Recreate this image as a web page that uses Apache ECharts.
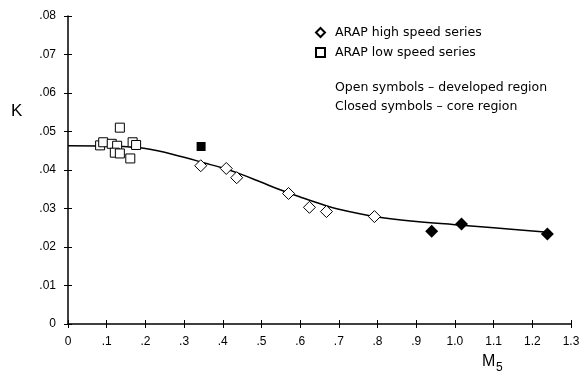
<!DOCTYPE html>
<html>
<head>
<meta charset="utf-8">
<script src="https://cdn.jsdelivr.net/npm/echarts@6/dist/echarts.min.js"></script>
<style>
  html, body { margin: 0; padding: 0; background: #fff; }
  #chart { width: 587px; height: 377px; }
</style>
</head>
<body>
<div id="chart"></div>
<script>
// values
var xTicks = [0, .1, .2, .3, .4, .5, .6, .7, .8, .9, 1.0, 1.1, 1.2, 1.3];
var xTickLabels = ['0', '.1', '.2', '.3', '.4', '.5', '.6', '.7', '.8', '.9', '1.0', '1.1', '1.2', '1.3'];
var yTickLabels = ['0', '.01', '.02', '.03', '.04', '.05', '.06', '.07', '.08'];

var lowOpen = [
    [.083, .0464], [.091, .0472], [.113, .0468], [.127, .0463], [.121, .0445],
    [.134, .0443], [.134, .0510], [.167, .0472], [.176, .0465], [.161, .0430]
];
var lowClosed = [[.344, .0461]];
var highOpen = [
    [.343, .0411], [.409, .0404], [.436, .0380], [.570, .0339],
    [.624, .0303], [.668, .0292], [.792, .0279]
];
var highClosed = [[.940, .0241], [1.017, .0260], [1.239, .0234]];

var curveX = [0, .1, .2, .3, .35, .4, .45, .5, .55, .6, .65, .7, .8, .9, 1.0, 1.1, 1.24];
var curveY = [.0463, .0462, .0456, .0433, .0419, .0405, .0388, .0368, .0348, .0330, .0313, .0298, .0278, .0266, .0258, .0250, .0238];

var chart = echarts.init(document.getElementById('chart'));
var font = '"Liberation Sans", Arial, sans-serif';
var legendFont = '"DejaVu Sans", sans-serif';
var grid = { left: 68, right: 16, top: 16, bottom: 53 };

function fmtX(v) {
    var i = xTicks.findIndex(function (t) { return Math.abs(t - v) < 1e-6; });
    return i >= 0 ? xTickLabels[i] : '';
}
function fmtY(v) {
    return yTickLabels[Math.round(v * 100)] || '';
}

var axisLine = { show: true, lineStyle: { color: '#000', width: 1.5 } };

option = {
    animation: false,
    backgroundColor: '#fff',
    grid: grid,
    legend: {
        data: ['ARAP high speed series', 'ARAP low speed series'],
        orient: 'vertical',
        left: 310,
        top: 21,
        itemWidth: 9,
        itemHeight: 9,
        itemGap: 7,
        textStyle: { fontFamily: legendFont, fontSize: 12.5, color: '#000', padding: [0, 0, 0, 5] }
    },
    xAxis: [{
        type: 'value', min: 0, max: 1.3, interval: 0.1,
        axisLine: axisLine,
        axisTick: { show: true, length: 4, lineStyle: { color: '#000' } },
        axisLabel: { formatter: fmtX, fontFamily: font, fontSize: 12, color: '#000', margin: 12 },
        splitLine: { show: false }
    }, {
        type: 'value', min: 0, max: 1.3, interval: 0.1, position: 'bottom',
        axisLine: { show: false },
        axisTick: { show: true, inside: true, length: 4, lineStyle: { color: '#000' } },
        axisLabel: { show: false },
        splitLine: { show: false }
    }],
    yAxis: [{
        type: 'value', min: 0, max: 0.08, interval: 0.01,
        axisLine: axisLine,
        axisTick: { show: true, length: 4, lineStyle: { color: '#000' } },
        axisLabel: { formatter: fmtY, fontFamily: font, fontSize: 12, color: '#000', margin: 12 },
        splitLine: { show: false }
    }, {
        type: 'value', min: 0, max: 0.08, interval: 0.01, position: 'left',
        axisLine: { show: false },
        axisTick: { show: true, inside: true, length: 4, lineStyle: { color: '#000' } },
        axisLabel: { show: false },
        splitLine: { show: false }
    }],
    series: [{
        name: 'curve',
        type: 'line',
        smooth: 0.4,
        symbol: 'none',
        lineStyle: { color: '#000', width: 1.5 },
        data: curveX.map(function (x, i) { return [x, curveY[i]]; }),
        z: 1
    }, {
        name: 'ARAP high speed series',
        type: 'scatter',
        symbol: 'diamond',
        symbolSize: 12,
        itemStyle: { color: '#fff', borderColor: '#000', borderWidth: 1, opacity: 1 },
        data: highOpen,
        z: 3
    }, {
        name: 'ARAP low speed series',
        type: 'scatter',
        symbol: 'rect',
        symbolSize: 9,
        itemStyle: { color: '#fff', borderColor: '#000', borderWidth: 1, opacity: 1 },
        data: lowOpen,
        z: 3
    }, {
        name: 'high closed',
        type: 'scatter',
        symbol: 'diamond',
        symbolSize: 13,
        itemStyle: { color: '#000', opacity: 1 },
        data: highClosed,
        z: 3
    }, {
        name: 'low closed',
        type: 'scatter',
        symbol: 'rect',
        symbolSize: 9,
        itemStyle: { color: '#000', opacity: 1 },
        data: lowClosed,
        z: 3
    }],
    graphic: [{
        type: 'text', left: 335, top: 81,
        style: { text: 'Open symbols \u2013 developed region', font: '12.5px ' + legendFont, fill: '#000' }
    }, {
        type: 'text', left: 335, top: 100,
        style: { text: 'Closed symbols \u2013 core region', font: '12.5px ' + legendFont, fill: '#000' }
    }, {
        type: 'text', left: 11, top: 103,
        style: { text: 'K', font: '17px ' + font, fill: '#000' }
    }, {
        type: 'text', left: 482, top: 354,
        style: { text: 'M', font: '16px ' + font, fill: '#000' }
    }, {
        type: 'text', left: 496, top: 362,
        style: { text: '5', font: '12px ' + font, fill: '#000' }
    }]
};
chart.setOption(option);
window.addEventListener('resize', () => {
    chart.resize();
})
</script>
</body>
</html>
